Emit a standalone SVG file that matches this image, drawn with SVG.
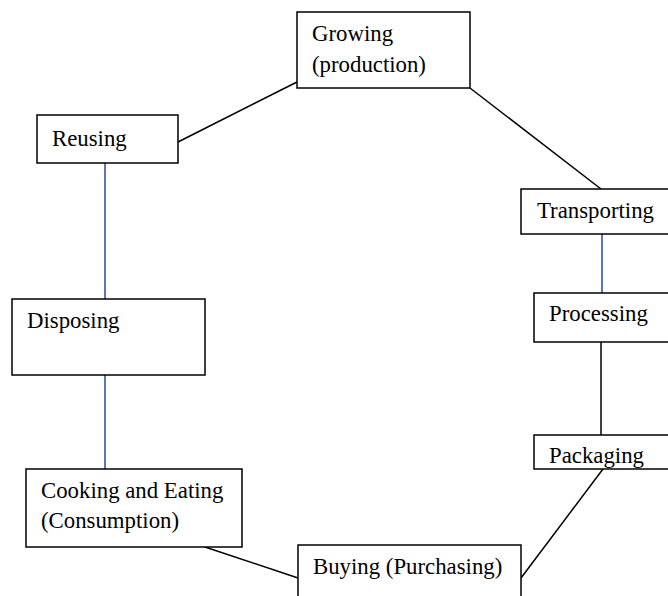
<svg xmlns="http://www.w3.org/2000/svg" width="668" height="596" viewBox="0 0 668 596">
<style>
.box{fill:#fff;stroke:#000;stroke-width:1.5}
.t{font-family:"Liberation Serif","Times New Roman",serif;font-size:22.8px;fill:#000}
.k{stroke:#000;stroke-width:1.5;fill:none}
.b{stroke:#2a4aa0;stroke-width:1.5;fill:none}
</style>
<rect width="668" height="596" fill="#fff"/>
<g id="connectors">
<line class="k" x1="178" y1="142" x2="297" y2="82"/>
<line class="k" x1="470" y1="88" x2="601" y2="189"/>
<line class="b" x1="602" y1="234" x2="602" y2="293"/>
<line class="k" x1="601" y1="342" x2="601" y2="435"/>
<line class="k" x1="603" y1="469" x2="521" y2="578"/>
<line class="k" x1="205" y1="547" x2="298" y2="578"/>
<line class="b" x1="105" y1="163" x2="105" y2="299"/>
<line class="b" x1="105" y1="375" x2="105" y2="469"/>
</g>
<g id="growing">
<rect class="box" x="297" y="12" width="173" height="76"/>
<text class="t" x="312" y="41">Growing</text>
<text class="t" x="312" y="72">(production)</text>
</g>
<g id="reusing">
<rect class="box" x="37" y="115" width="141" height="48"/>
<text class="t" x="52" y="146">Reusing</text>
</g>
<g id="transporting">
<rect class="box" x="521" y="189" width="160" height="45"/>
<text class="t" x="537" y="218">Transporting</text>
</g>
<g id="processing">
<rect class="box" x="534" y="293" width="150" height="49"/>
<text class="t" x="549" y="321">Processing</text>
</g>
<g id="disposing">
<rect class="box" x="12" y="299" width="193" height="76"/>
<text class="t" x="27" y="328">Disposing</text>
</g>
<g id="packaging">
<rect class="box" x="534" y="435" width="150" height="34"/>
<text class="t" x="549" y="463">Packaging</text>
</g>
<g id="cooking">
<rect class="box" x="26" y="469" width="216" height="78"/>
<text class="t" x="41" y="498">Cooking and Eating</text>
<text class="t" x="41" y="528">(Consumption)</text>
</g>
<g id="buying">
<rect class="box" x="298" y="545" width="223" height="60"/>
<text class="t" x="313" y="574">Buying (Purchasing)</text>
</g>
</svg>
